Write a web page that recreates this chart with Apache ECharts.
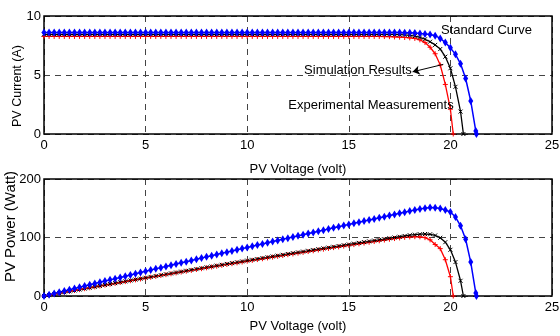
<!DOCTYPE html>
<html><head><meta charset="utf-8">
<script src="https://cdn.jsdelivr.net/npm/echarts@6/dist/echarts.min.js"></script>
<style>html,body{margin:0;padding:0;background:#fff}#c{width:560px;height:336px}</style>
</head><body><div id="c"></div>
<script>
// Shared voltage sampling (V)
const voltage = [0,0.25,0.5,0.75,1,1.25,1.5,1.75,2,2.25,2.5,2.75,3,3.25,3.5,3.75,4,4.25,4.5,4.75,
  5,5.25,5.5,5.75,6,6.25,6.5,6.75,7,7.25,7.5,7.75,8,8.25,8.5,8.75,9,9.25,9.5,9.75,
  10,10.25,10.5,10.75,11,11.25,11.5,11.75,12,12.25,12.5,12.75,13,13.25,13.5,13.75,14,14.25,14.5,14.75,
  15,15.25,15.5,15.75,16,16.25,16.5,16.75,17,17.25,17.5,17.75,18,18.25,18.5,18.75,19,19.25,19.5,19.75,
  20,20.25,20.5,20.75,21,21.25];

// Open-circuit voltages (end points, value 0)
const vocStandard = 21.28;
const vocSimulation = 20.64;
const vocExperimental = 20.14;

// PV current (A)
const currentStandard = [
  8.6,8.6,8.6,8.6,8.6,8.6,8.6,8.6,8.6,8.6,
  8.6,8.6,8.6,8.6,8.6,8.6,8.6,8.6,8.6,8.6,
  8.6,8.6,8.6,8.6,8.6,8.6,8.6,8.6,8.6,8.6,
  8.6,8.6,8.6,8.6,8.6,8.6,8.6,8.6,8.6,8.6,
  8.6,8.6,8.6,8.6,8.6,8.6,8.6,8.6,8.6,8.6,
  8.6,8.6,8.6,8.6,8.6,8.6,8.6,8.6,8.6,8.6,
  8.6,8.6,8.6,8.6,8.6,8.6,8.6,8.6,8.6,8.6,
  8.6,8.59,8.57,8.55,8.52,8.48,8.43,8.33,8.1,7.75,
  7.3,6.75,5.95,4.7,2.8,0.25];
const currentSimulation = [
  8.45,8.45,8.45,8.45,8.45,8.45,8.45,8.45,8.45,8.45,
  8.45,8.45,8.45,8.45,8.45,8.45,8.45,8.45,8.45,8.45,
  8.45,8.45,8.45,8.45,8.45,8.45,8.45,8.45,8.45,8.45,
  8.45,8.45,8.45,8.45,8.45,8.45,8.45,8.45,8.45,8.45,
  8.45,8.45,8.45,8.45,8.45,8.45,8.45,8.45,8.45,8.45,
  8.45,8.45,8.45,8.45,8.45,8.45,8.45,8.45,8.45,8.45,
  8.45,8.45,8.45,8.45,8.45,8.45,8.45,8.45,8.45,8.44,
  8.42,8.4,8.36,8.29,8.18,8.03,7.82,7.55,7.2,6.55,
  5.57,4.0,1.9];
const currentExperimental = [
  8.27,8.27,8.27,8.27,8.27,8.27,8.27,8.27,8.27,8.27,
  8.27,8.27,8.27,8.27,8.27,8.27,8.27,8.27,8.27,8.27,
  8.27,8.27,8.27,8.27,8.27,8.27,8.27,8.27,8.27,8.27,
  8.27,8.27,8.27,8.27,8.27,8.27,8.27,8.27,8.27,8.27,
  8.27,8.27,8.27,8.27,8.27,8.27,8.27,8.27,8.27,8.27,
  8.27,8.27,8.27,8.27,8.27,8.27,8.27,8.27,8.27,8.27,
  8.27,8.27,8.27,8.27,8.27,8.27,8.27,8.26,8.25,8.23,
  8.21,8.18,8.15,8.1,7.98,7.75,7.35,6.8,5.85,4.2,
  2.1];

// PV power (W)
const powerStandard = [
  0,2.2,4.3,6.4,8.6,10.7,12.8,15.0,17.1,19.2,
  21.3,23.4,25.5,27.6,29.7,31.8,33.9,36.0,38.1,40.2,
  42.3,44.3,46.4,48.5,50.5,52.6,54.6,56.7,58.7,60.8,
  62.8,64.9,66.9,68.9,70.9,73.0,75.0,77.0,79.0,81.0,
  83.0,85.0,87.0,89.0,91.0,93.0,94.9,96.9,98.9,100.9,
  102.8,104.8,106.7,108.7,110.6,112.6,114.5,116.5,118.4,120.3,
  122.3,124.2,126.1,128.0,129.9,131.8,133.7,135.6,137.5,139.4,
  141.3,143.2,145.1,147.0,148.8,150.2,151.2,151.0,149.5,147.0,
  143.5,135.0,120.0,97.0,58.0,5.0];
const powerSimulation = [
  0,1.6,3.2,4.8,6.4,8.0,9.5,11.1,12.7,14.2,
  15.8,17.3,18.9,20.4,22.0,23.5,25.0,26.6,28.1,29.6,
  31.1,32.6,34.1,35.6,37.1,38.6,40.1,41.6,43.1,44.6,
  46.0,47.5,49.0,50.4,51.9,53.3,54.8,56.2,57.6,59.1,
  60.5,61.9,63.3,64.8,66.2,67.6,69.0,70.4,71.8,73.2,
  74.5,75.9,77.3,78.7,80.0,81.4,82.7,84.1,85.4,86.8,
  88.1,89.5,90.8,92.1,93.4,94.8,96.1,97.4,98.7,100.0,
  101.3,102.6,103.9,104.9,105.6,106.0,105.5,103.5,99.5,92.0,
  79.0,58.0,26.0];
const powerExperimental = [
  0,1.6,3.1,4.7,6.3,7.8,9.4,10.9,12.5,14.0,
  15.5,17.1,18.6,20.1,21.6,23.1,24.6,26.1,27.6,29.1,
  30.6,32.1,33.6,35.1,36.5,38.0,39.5,40.9,42.4,43.8,
  45.3,46.7,48.2,49.6,51.0,52.5,53.9,55.3,56.7,58.1,
  59.5,60.9,62.3,63.7,65.1,66.5,67.8,69.2,70.6,71.9,
  73.3,74.6,76.0,77.3,78.7,80.0,81.3,82.7,84.0,85.3,
  86.6,87.9,89.2,90.5,91.8,93.1,94.4,95.7,97.0,98.2,
  99.3,100.3,101.0,101.4,101.2,99.8,96.0,88.0,81.0,62.0,
  33.0];

// Tick values
const xTicks = [0,5,10,15,20,25];
const currentTicks = [0,5,10];
const powerTicks = [0,100,200];

// Annotations (data coordinates of the top plot)
const labelStandard = {text:'Standard Curve', at:[19.54, 8.76]};
const labelSimulation = {text:'Simulation Results', at:[12.8, 5.41]};
const labelExperimental = {text:'Experimental Measurements', at:[12.02, 2.43]};
const arrowFrom = [19.65, 5.9];
const arrowTo = [18.14, 5.27];

const FONT = 'Liberation Sans, Arial, sans-serif';

function pairs(values, voc) {
  return voltage.slice(0, values.length).map((v, i) => [v, values[i]]).concat([[voc, 0]]);
}

const symX = 'path://M0,0L10,10M10,0L0,10';
const symPlus = 'path://M5,0L5,10M0,5L10,5';

function makeSeries(name, data, gi, kind) {
  const s = {
    name, type:'line', xAxisIndex:gi, yAxisIndex:gi, data,
    showSymbol:true, showAllSymbol:true, silent:true, clip:true
  };
  if (kind === 'blue') {
    s.symbol = 'diamond'; s.symbolSize = [5,8];
    s.lineStyle = {color:'#0000ff', width:1.5};
    s.itemStyle = {color:'#0000ff'};
  } else if (kind === 'black') {
    s.symbol = symX; s.symbolSize = 4;
    s.lineStyle = {color:'#000', width:1.3};
    s.itemStyle = {color:'#000', borderColor:'#000', borderWidth:1};
  } else {
    s.symbol = symPlus; s.symbolSize = 5;
    s.lineStyle = {color:'#ff0000', width:1.3};
    s.itemStyle = {color:'#ff0000', borderColor:'#ff0000', borderWidth:1};
  }
  return s;
}

function xAxis(gi, gap) {
  return {
    gridIndex:gi, type:'value', min:xTicks[0], max:xTicks[xTicks.length-1], interval:xTicks[1]-xTicks[0],
    name:'PV Voltage (volt)', nameLocation:'middle', nameGap:gap, nameMoveOverlap:false,
    nameTextStyle:{fontFamily:FONT, fontSize:13, color:'#000'},
    axisLine:{show:false}, axisTick:{show:false},
    axisLabel:{margin:5, fontFamily:FONT, fontSize:13, color:'#000'},
    splitLine:{show:true, lineStyle:{type:[6,5], color:'#444', width:1}}
  };
}
function yAxis(gi, ticks, name, gap, nameSize, namePad) {
  return {
    gridIndex:gi, type:'value', min:ticks[0], max:ticks[ticks.length-1], interval:ticks[1]-ticks[0],
    name, nameLocation:'middle', nameGap:gap, nameMoveOverlap:false,
    nameTextStyle:{fontFamily:FONT, fontSize:nameSize, color:'#000', padding:namePad},
    axisLine:{show:false}, axisTick:{show:false},
    axisLabel:{margin:3, fontFamily:FONT, fontSize:13, color:'#000'},
    splitLine:{show:true, lineStyle:{type:[6,5], color:'#444', width:1}}
  };
}

const chart = echarts.init(document.getElementById('c'), null, {renderer:'canvas'});
const blackTop = makeSeries('Simulation Results', pairs(currentSimulation, vocSimulation), 0, 'black');
blackTop.markLine = {
  silent:true, symbolSize:7, animation:false,
  label:{show:false},
  lineStyle:{color:'#000', width:1, type:'solid'},
  data:[[{coord:arrowFrom, symbol:'none'}, {coord:arrowTo, symbol:'arrow'}]]
};
const gridBase = {left:44, right:8, show:true, borderColor:'#000', borderWidth:1.5, z:3,
  containLabel:false, outerBoundsMode:'none'};
chart.setOption({
  animation:false,
  backgroundColor:'#fff',
  grid:[
    Object.assign({top:16, height:118}, gridBase),
    Object.assign({top:179, height:117}, gridBase)
  ],
  xAxis:[xAxis(0, 29), xAxis(1, 24)],
  yAxis:[
    yAxis(0, currentTicks, 'PV Current (A)', 20, 12.5, [0,22,0,0]),
    yAxis(1, powerTicks, 'PV Power (Watt)', 26, 15, [0,0,0,22])
  ],
  series:[
    makeSeries('Experimental Measurements', pairs(currentExperimental, vocExperimental), 0, 'red'),
    blackTop,
    makeSeries('Standard Curve', pairs(currentStandard, vocStandard), 0, 'blue'),
    makeSeries('Experimental Measurements P', pairs(powerExperimental, vocExperimental), 1, 'red'),
    makeSeries('Simulation Results P', pairs(powerSimulation, vocSimulation), 1, 'black'),
    makeSeries('Standard Curve P', pairs(powerStandard, vocStandard), 1, 'blue')
  ]
});

const labels = [labelStandard, labelSimulation, labelExperimental];
chart.setOption({
  graphic: labels.map(l => {
    const p = chart.convertToPixel({gridIndex:0}, l.at);
    return {type:'text', x:p[0], y:p[1], z:100, silent:true,
      style:{text:l.text, fontFamily:FONT, fontSize:13, fill:'#000', align:'left', verticalAlign:'middle'}};
  })
});
</script></body></html>
